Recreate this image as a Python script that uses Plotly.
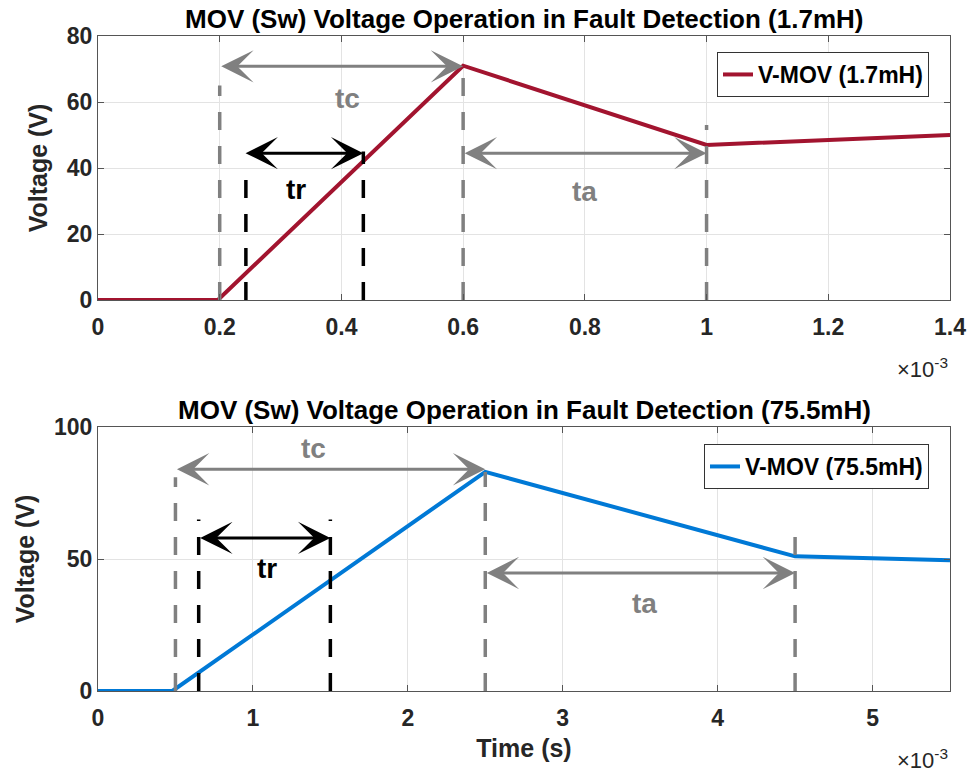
import plotly.graph_objects as go

# ---------------- data (time in units of 1e-3 s) ----------------
t1 = [0.0, 0.197, 0.6, 1.0, 1.4]
v1 = [0.0, 0.0, 71.0, 47.0, 50.0]
t2 = [0.0, 0.48, 2.5, 4.5, 5.5]
v2 = [0.0, 0.0, 83.0, 51.0, 49.5]

# vertical dashed markers: (x, y_top)
gray_marks1 = [(0.2, 65.0), (0.6, 71.0), (1.0, 53.0)]
black_marks1 = [(0.243, 37.0), (0.436, 45.0)]
gray_marks2 = [(0.5, 81.0), (2.5, 83.0), (4.5, 59.0)]
black_marks2 = [(0.65, 65.0), (1.5, 65.0)]

# arrows: (x0, x1, y, label, label_x, label_y, colour)
arrows1 = [(0.2, 0.6, 70.8, "tc", 0.41, 61.0, "gray"),
           (0.24, 0.436, 44.5, "tr", 0.325, 33.5, "black"),
           (0.6, 1.0, 44.5, "ta", 0.8, 33.0, "gray")]
arrows2 = [(0.5, 2.5, 84.0, "tc", 1.39, 92.0, "gray"),
           (0.65, 1.5, 58.0, "tr", 1.09, 46.5, "black"),
           (2.5, 4.5, 44.7, "ta", 3.53, 33.0, "gray")]

xt1 = [0, 0.2, 0.4, 0.6, 0.8, 1.0, 1.2, 1.4]
xt1_lbl = ["0", "0.2", "0.4", "0.6", "0.8", "1", "1.2", "1.4"]
yt1 = [0, 20, 40, 60, 80]
xt2 = [0, 1, 2, 3, 4, 5]
yt2 = [0, 50, 100]

RED = "#A2142F"
BLUE = "#0079D6"
GRAY = "#808080"
FONT = "Liberation Sans"
TXT = "#262626"

W, H = 971, 776
ML, MR, MT, MB = 98, 21, 36, 85
PW, PH = W - ML - MR, H - MT - MB


def px(x):
    return (x - ML) / PW


def py(y):
    return 1 - (y - MT) / PH


fig = go.Figure()

fig.add_trace(go.Scatter(x=t1, y=v1, mode="lines", name="V-MOV (1.7mH)",
                         line=dict(color=RED, width=4), xaxis="x", yaxis="y",
                         legend="legend"))
fig.add_trace(go.Scatter(x=t2, y=v2, mode="lines", name="V-MOV (75.5mH)",
                         line=dict(color=BLUE, width=4), xaxis="x2", yaxis="y2",
                         legend="legend2"))


def vlines(marks, color, xa, ya):
    for x, ytop in marks:
        fig.add_trace(go.Scatter(x=[x, x], y=[0, ytop], mode="lines", showlegend=False,
                                 line=dict(color=color, width=3.5, dash="18px,16px"),
                                 xaxis=xa, yaxis=ya, hoverinfo="skip"))


vlines(gray_marks1, GRAY, "x", "y")
vlines(black_marks1, "black", "x", "y")
vlines(gray_marks2, GRAY, "x2", "y2")
vlines(black_marks2, "black", "x2", "y2")


def arrows(specs, xr, yr):
    for x0, x1, y, lab, lx, ly, col in specs:
        c = GRAY if col == "gray" else "black"
        fig.add_annotation(x=x1, y=y, ax=x0, ay=y, xref=xr, yref=yr, axref=xr, ayref=yr,
                           text="", showarrow=True, arrowhead=3, arrowside="end+start",
                           arrowsize=1.8, arrowwidth=3, arrowcolor=c, standoff=0, startstandoff=0)
        fig.add_annotation(x=lx, y=ly, xref=xr, yref=yr, text=lab, showarrow=False,
                           font=dict(family=FONT, size=28, color=c, weight="bold"))


arrows(arrows1, "x", "y")
arrows(arrows2, "x2", "y2")

axis_common = dict(showline=True, linecolor="#555555", linewidth=1, mirror="ticks",
                   ticks="inside", ticklen=6, tickcolor="#555555", automargin=False,
                   showgrid=True, gridcolor="#E3E3E3", gridwidth=1, zeroline=False,
                   tickfont=dict(family=FONT, size=23, color=TXT, weight="bold"))

title_font = dict(family=FONT, size=25, color=TXT, weight="bold")

fig.update_layout(
    width=W, height=H,
    margin=dict(l=ML, r=MR, t=MT, b=MB, autoexpand=False),
    paper_bgcolor="white", plot_bgcolor="white",
    xaxis=dict(domain=[0, 1], range=[0, 1.4], tickvals=xt1, ticktext=xt1_lbl,
               anchor="y", ticklabelstandoff=6, **axis_common),
    yaxis=dict(domain=[py(300), py(36)], range=[0, 80], tickvals=yt1, anchor="x",
               title=dict(text="Voltage (V)", font=title_font, standoff=12),
               **axis_common),
    xaxis2=dict(domain=[0, 1], range=[0, 5.5], tickvals=xt2, anchor="y2",
                ticklabelstandoff=6,
                title=dict(text="Time (s)", font=title_font, standoff=9),
                **axis_common),
    yaxis2=dict(domain=[py(691), py(427)], range=[0, 100], tickvals=yt2, anchor="x2",
                title=dict(text="Voltage (V)", font=title_font, standoff=12),
                **axis_common),
    legend=dict(x=px(929), y=py(52), xanchor="right", yanchor="top", bgcolor="white",
                bordercolor="#333333", borderwidth=1,
                font=dict(family=FONT, size=23, color="black", weight="bold")),
    legend2=dict(x=px(929), y=py(444), xanchor="right", yanchor="top", bgcolor="white",
                 bordercolor="#333333", borderwidth=1,
                 font=dict(family=FONT, size=23, color="black", weight="bold")),
    showlegend=True,
)

titles = [("MOV (Sw) Voltage Operation in Fault Detection (1.7mH)", 36),
          ("MOV (Sw) Voltage Operation in Fault Detection (75.5mH)", 427)]
for txt, ytop in titles:
    fig.add_annotation(x=0.5, y=py(ytop), xref="paper", yref="paper", yanchor="bottom",
                       text=txt, showarrow=False, yshift=0,
                       font=dict(family=FONT, size=26, color="black", weight="bold"))

for ybot in [300, 691]:
    fig.add_annotation(x=1.0, y=py(ybot), xref="paper", yref="paper", xanchor="right",
                       yanchor="top", yshift=-52, text="×10<sup>-3</sup>", showarrow=False,
                       font=dict(family=FONT, size=22, color=TXT))

fig.write_html("out.html")
